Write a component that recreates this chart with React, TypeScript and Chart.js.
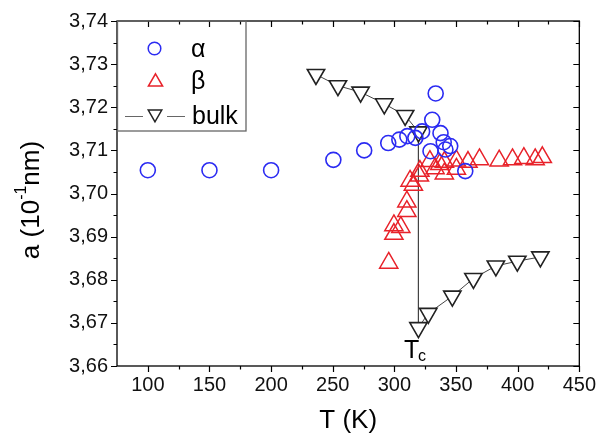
import React, { useEffect, useRef } from 'react';
import { Chart, registerables } from 'chart.js';

Chart.register(...registerables);

// ---- data (T in K, a in 10^-1 nm) ----
const alphaT = [100, 150, 200, 250.5, 275.5, 295, 304, 310.5, 317, 322.5, 329.3, 330.7, 333.5, 337.4, 340, 341.4, 345.3, 357.5];
const alphaA = [3.7054, 3.7054, 3.7054, 3.7078, 3.71, 3.7117, 3.7125, 3.7133, 3.7129, 3.7144, 3.7098, 3.7171, 3.7232, 3.714, 3.7119, 3.7102, 3.711, 3.7052];

const betaT = [295.4, 299.6, 299.6, 305.2, 310.1, 310.1, 312.7, 315.4, 320.3, 320.7, 328.8, 333, 336.8, 340.5, 340.6, 350.3, 350.3, 359.7, 369, 385, 395.8, 405, 414.2, 420];
const betaA = [3.6839, 3.6906, 3.6926, 3.6922, 3.6959, 3.6981, 3.7029, 3.702, 3.7041, 3.7052, 3.7075, 3.7058, 3.7068, 3.7046, 3.7073, 3.7057, 3.7076, 3.7073, 3.7079, 3.7076, 3.7079, 3.7082, 3.7079, 3.7084];

const bulkT = [236.4, 254.2, 272.6, 291.8, 308.7, 319.5, 319.5, 327.5, 347.0, 364.1, 382.3, 399.7, 418.4];
const bulkA = [3.7276, 3.725, 3.7235, 3.7208, 3.7181, 3.7143, 3.6689, 3.6722, 3.6762, 3.6803, 3.6832, 3.6843, 3.6853];

const xMajorTicks = [100, 150, 200, 250, 300, 350, 400, 450];
const xMinorTicks = [125, 175, 225, 275, 325, 375, 425];
const yMajorTicks = [3.66, 3.67, 3.68, 3.69, 3.70, 3.71, 3.72, 3.73, 3.74];
const yMinorTicks = [3.665, 3.675, 3.685, 3.695, 3.705, 3.715, 3.725, 3.735];

const legendLabels = ['α', 'β', 'bulk'];
const xTitle = 'T (K)';
const tcLabel = ['T', 'c'];

const FONT = '"Liberation Sans", Arial, Helvetica, sans-serif';
const BLUE = '#2b2bf2';
const RED = '#e8222a';
const DARK = '#222222';

function pts(xs: number[], ys: number[]) {
  return xs.map((x, i) => ({ x, y: ys[i] }));
}

function drawTri(ctx: CanvasRenderingContext2D, x: number, y: number, r: number, rotDeg: number) {
  let rad = (rotDeg * Math.PI) / 180;
  ctx.beginPath();
  ctx.moveTo(x + Math.sin(rad) * r, y - Math.cos(rad) * r);
  rad += (2 * Math.PI) / 3;
  ctx.lineTo(x + Math.sin(rad) * r, y - Math.cos(rad) * r);
  rad += (2 * Math.PI) / 3;
  ctx.lineTo(x + Math.sin(rad) * r, y - Math.cos(rad) * r);
  ctx.closePath();
}

const overlayPlugin = {
  id: 'overlay',
  afterDraw(chart: any) {
    const ctx: CanvasRenderingContext2D = chart.ctx;
    const xs = chart.scales.x;
    const ys = chart.scales.y;
    const { left, right, top, bottom } = chart.chartArea;
    ctx.save();
    // frame
    ctx.strokeStyle = '#000';
    ctx.lineWidth = 1.3;
    ctx.strokeRect(left, top, right - left, bottom - top);
    // ticks
    ctx.lineWidth = 1.2;
    ctx.beginPath();
    const xt = (v: number, len: number) => {
      const p = Math.round(xs.getPixelForValue(v)) + 0.5;
      ctx.moveTo(p, bottom);
      ctx.lineTo(p, bottom + len);
      ctx.moveTo(p, top);
      ctx.lineTo(p, top + len);
    };
    const yt = (v: number, len: number) => {
      const p = Math.round(ys.getPixelForValue(v)) + 0.5;
      ctx.moveTo(left, p);
      ctx.lineTo(left - len, p);
      ctx.moveTo(right, p);
      ctx.lineTo(right - len, p);
    };
    xMajorTicks.forEach((v) => xt(v, 6));
    xMinorTicks.forEach((v) => xt(v, 3.5));
    yMajorTicks.forEach((v) => yt(v, 6));
    yMinorTicks.forEach((v) => yt(v, 3.5));
    ctx.stroke();

    // legend box
    const lx0 = left + 0.5;
    const ly0 = top;
    const lx1 = 246;
    const ly1 = 131;
    ctx.strokeStyle = '#666';
    ctx.lineWidth = 1.3;
    ctx.strokeRect(lx0, ly0, lx1 - lx0, ly1 - ly0);
    // alpha entry
    ctx.lineWidth = 1.5;
    ctx.strokeStyle = BLUE;
    ctx.beginPath();
    ctx.arc(154.5, 48.5, 6.3, 0, Math.PI * 2);
    ctx.stroke();
    // beta entry
    ctx.strokeStyle = RED;
    drawTri(ctx, 155.5, 82, 8.2, 0);
    ctx.stroke();
    // bulk entry
    ctx.strokeStyle = '#666';
    ctx.lineWidth = 1.2;
    ctx.beginPath();
    ctx.moveTo(125, 116.5);
    ctx.lineTo(143, 116.5);
    ctx.moveTo(167, 116.5);
    ctx.lineTo(185, 116.5);
    ctx.stroke();
    ctx.strokeStyle = DARK;
    ctx.lineWidth = 1.5;
    drawTri(ctx, 155, 114, 7.8, 180);
    ctx.stroke();

    ctx.fillStyle = '#000';
    ctx.textAlign = 'left';
    ctx.textBaseline = 'alphabetic';
    ctx.font = `25px ${FONT}`;
    ctx.fillText(legendLabels[0], 191, 57);
    ctx.fillText(legendLabels[1], 191, 89);
    ctx.fillText(legendLabels[2], 192, 124);

    // Tc label
    ctx.font = `25px ${FONT}`;
    ctx.fillText(tcLabel[0], 404, 358);
    ctx.font = `16px ${FONT}`;
    ctx.fillText(tcLabel[1], 418, 361);

    // x title
    ctx.font = `26px ${FONT}`;
    ctx.textAlign = 'center';
    ctx.textBaseline = 'middle';
    ctx.fillText(xTitle, (left + right) / 2, 421);

    // y title: a (10^-1 nm)
    ctx.translate(31, 200);
    ctx.rotate(-Math.PI / 2);
    const big = `26px ${FONT}`;
    const small = `16px ${FONT}`;
    const parts: [string, string, number][] = [
      ['a (10', big, 0],
      ['-1', small, -10],
      ['nm)', big, 0],
    ];
    let total = 0;
    parts.forEach(([t, f]) => {
      ctx.font = f;
      total += ctx.measureText(t).width;
    });
    let cx = -total / 2;
    ctx.textAlign = 'left';
    ctx.textBaseline = 'middle';
    parts.forEach(([t, f, dy]) => {
      ctx.font = f;
      ctx.fillText(t, cx, dy + 1);
      cx += ctx.measureText(t).width;
    });
    ctx.restore();
  },
};

export default function App() {
  const ref = useRef<HTMLCanvasElement | null>(null);
  useEffect(() => {
    if (!ref.current) return;
    const chart = new Chart(ref.current, {
      type: 'scatter',
      data: {
        datasets: [
          {
            label: 'α',
            data: pts(alphaT, alphaA),
            pointStyle: 'circle',
            pointRadius: 7.5,
            pointBorderWidth: 1.6,
            pointBorderColor: BLUE,
            pointBackgroundColor: 'rgba(0,0,0,0)',
            order: 1,
          },
          {
            label: 'β',
            data: pts(betaT, betaA),
            pointStyle: 'triangle',
            pointRadius: 10.5,
            pointBorderWidth: 1.5,
            pointBorderColor: RED,
            pointBackgroundColor: 'rgba(0,0,0,0)',
            order: 2,
          },
          {
            label: 'bulk',
            data: pts(bulkT, bulkA),
            showLine: true,
            borderColor: '#444',
            borderWidth: 1,
            pointStyle: 'triangle',
            pointRotation: 180,
            pointRadius: 10,
            pointBorderWidth: 1.6,
            pointBorderColor: DARK,
            pointBackgroundColor: '#ffffff',
            order: 3,
          },
        ],
      },
      options: {
        responsive: false,
        animation: false,
        events: [],
        layout: { padding: { left: 0, right: 19, top: 19, bottom: 0 } },
        plugins: { legend: { display: false }, tooltip: { enabled: false } },
        scales: {
          x: {
            type: 'linear',
            min: 75,
            max: 450,
            grid: { display: false, drawTicks: false },
            border: { display: false },
            afterBuildTicks: (s: any) => {
              s.ticks = xMajorTicks.map((v) => ({ value: v }));
            },
            afterFit: (s: any) => {
              s.height = 74;
            },
            ticks: {
              padding: 7,
              color: '#111',
              font: { family: FONT, size: 20 },
              callback: (v: any) => String(v),
            },
          },
          y: {
            type: 'linear',
            min: 3.66,
            max: 3.74,
            grid: { display: false, drawTicks: false },
            border: { display: false },
            afterBuildTicks: (s: any) => {
              s.ticks = yMajorTicks.map((v) => ({ value: v }));
            },
            afterFit: (s: any) => {
              s.width = 117;
            },
            ticks: {
              padding: 9,
              color: '#111',
              font: { family: FONT, size: 20 },
              callback: (v: any) => Number(v).toFixed(2).replace('.', ','),
            },
          },
        },
      },
      plugins: [overlayPlugin],
    });
    return () => chart.destroy();
  }, []);
  return (
    <div style={{ position: 'absolute', left: 0, top: 0, width: 603, height: 440, background: '#fff' }}>
      <canvas ref={ref} width={603} height={440} style={{ width: 603, height: 440, display: 'block' }} />
    </div>
  );
}
